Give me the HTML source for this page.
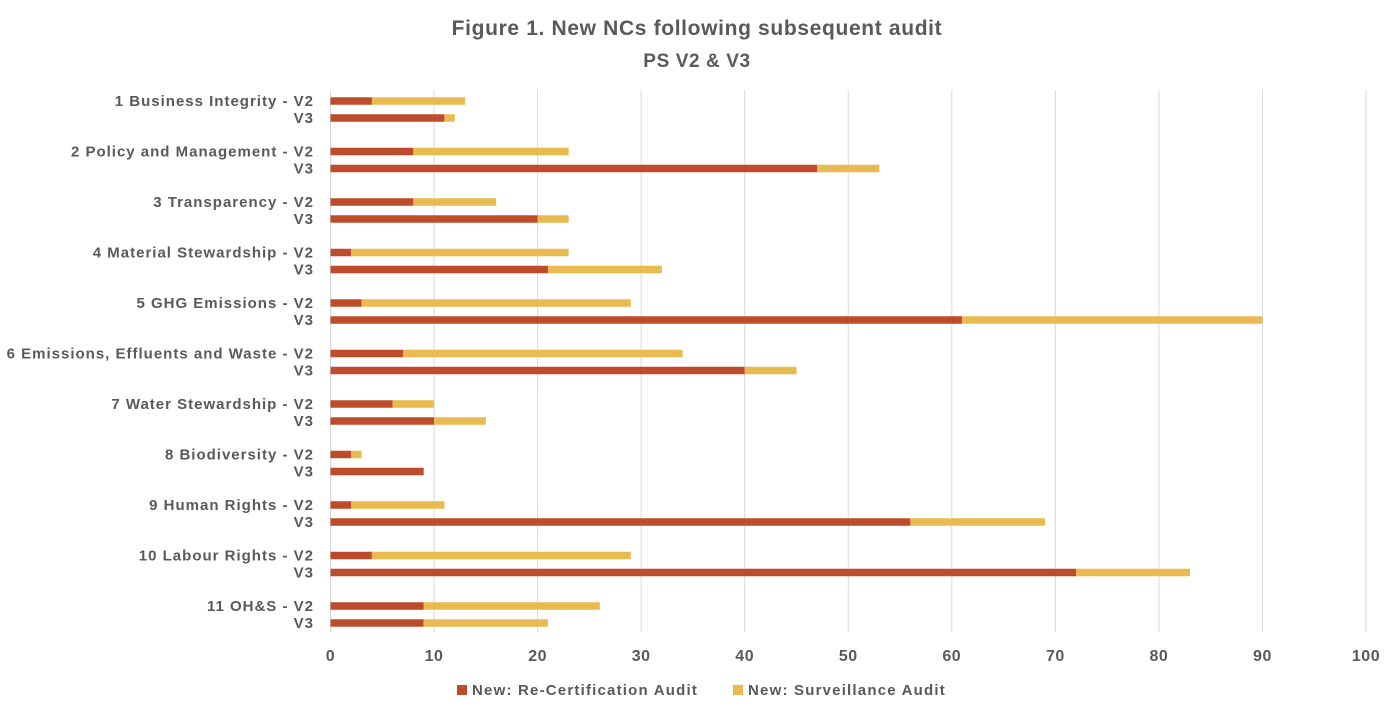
<!DOCTYPE html>
<html><head><meta charset="utf-8"><style>
body{margin:0;background:#fff;width:1395px;height:708px;overflow:hidden}
</style></head><body>
<svg width="1395" height="708" xmlns="http://www.w3.org/2000/svg" font-family="Liberation Sans, sans-serif" font-weight="bold" fill="#595959">
<text x="697" y="35" font-size="21" text-anchor="middle" letter-spacing="0.65">Figure 1. New NCs following subsequent audit</text>
<text x="697" y="67" font-size="19" text-anchor="middle" letter-spacing="0.6">PS V2 &amp; V3</text>
<g id="grid"></g>
<g id="bars"></g>
<g id="labels" font-size="15" text-anchor="end" letter-spacing="1"></g>
<g id="ticks" font-size="16" text-anchor="middle" letter-spacing="0.5"></g>
<rect x="457" y="685" width="10" height="10" fill="#BE4B2C"/>
<text x="472" y="695" font-size="15" letter-spacing="1.2">New: Re-Certification Audit</text>
<rect x="733" y="685" width="10" height="10" fill="#E9BA4F"/>
<text x="748" y="695" font-size="15" letter-spacing="1.2">New: Surveillance Audit</text>
</svg>
<script>
const ns="http://www.w3.org/2000/svg";
const x0=330.5,s=10.355;
function el(t,a,p,txt){const e=document.createElementNS(ns,t);for(const k in a)e.setAttribute(k,a[k]);if(txt!=null)e.textContent=txt;document.getElementById(p).appendChild(e);}
for(let i=0;i<=100;i+=10){const x=x0+i*s;el('line',{x1:x,x2:x,y1:90,y2:632,stroke:'#d9d9d9','stroke-width':1},'grid');el('text',{x:x,y:661},'ticks',String(i));}
const names=["1 Business Integrity","2 Policy and Management","3 Transparency","4 Material Stewardship","5 GHG Emissions","6 Emissions, Effluents and Waste","7 Water Stewardship","8 Biodiversity","9 Human Rights","10 Labour Rights","11 OH&S"];
const d=[[4,13,11,12],[8,23,47,53],[8,16,20,23],[2,23,21,32],[3,29,61,90],[7,34,40,45],[6,10,10,15],[2,3,9,9],[2,11,56,69],[4,29,72,83],[9,26,9,21]];
d.forEach((r,i)=>{const y2=101+i*50.5,y3=y2+17;
[[y2,r[0],r[1]],[y3,r[2],r[3]]].forEach(([y,a,b])=>{
el('rect',{x:x0,y:y-3.75,width:a*s,height:7.5,fill:'#BE4B2C'},'bars');
el('rect',{x:x0+a*s,y:y-3.75,width:(b-a)*s,height:7.5,fill:'#E9BA4F'},'bars');});
el('text',{x:314,y:y2+5},'labels',names[i]+" - V2");
el('text',{x:314,y:y3+5},'labels',"V3");});
</script>
</body></html>
